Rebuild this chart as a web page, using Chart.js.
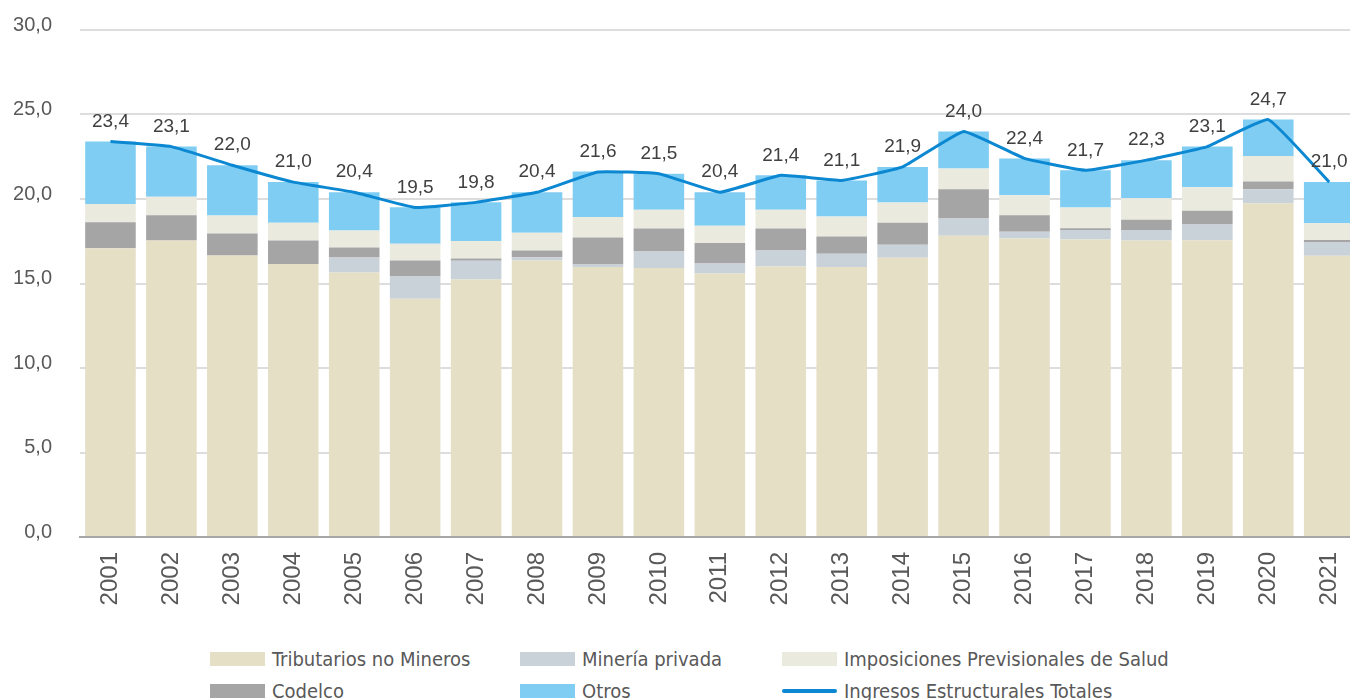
<!DOCTYPE html>
<html lang="es">
<head>
<meta charset="utf-8">
<title>Ingresos Estructurales</title>
<script src="https://cdn.jsdelivr.net/npm/chart.js@4/dist/chart.umd.min.js"></script>
<style>
    html, body { margin: 0; padding: 0; background: #fff; overflow: hidden; }
    #wrap { position: relative; width: 1350px; height: 700px; overflow: hidden; }
    #chart { position: absolute; left: 0; top: -10px; }
    #legend { position: absolute; left: 210px; top: 648px; display: grid;
        grid-template-columns: 310px 262px 400px; row-gap: 10px;
        font-family: 'Liberation Sans Narrow', 'DejaVu Sans Condensed', sans-serif;
        font-size: 20px; color: #595959; }
    .item { display: flex; align-items: center; height: 22px; white-space: nowrap; }
    .box { width: 55px; height: 14px; margin-right: 7px; }
    .line { width: 55px; height: 4px; border-radius: 2px; margin-right: 7px; }
</style>
</head>
<body>
<div id="wrap">
    <canvas id="chart" width="1373" height="650"></canvas>
    <div id="legend"></div>
</div>
<script>
// Datos
const years = ['2001', '2002', '2003', '2004', '2005', '2006', '2007', '2008', '2009', '2010', '2011',
    '2012', '2013', '2014', '2015', '2016', '2017', '2018', '2019', '2020', '2021'];
const tributarios = [17.09, 17.54, 16.66, 16.15, 15.65, 14.10, 15.24, 16.36, 15.97, 15.91, 15.59,
    16.01, 15.97, 16.52, 17.82, 17.66, 17.60, 17.54, 17.56, 19.75, 16.64];
const mineriaPrivada = [0, 0, 0, 0, 0.89, 1.32, 1.10, 0.20, 0.16, 0.98, 0.59,
    0.94, 0.79, 0.78, 1.02, 0.40, 0.57, 0.63, 0.93, 0.82, 0.78];
const codelco = [1.54, 1.50, 1.30, 1.39, 0.59, 0.94, 0.14, 0.39, 1.59, 1.36, 1.21,
    1.30, 1.02, 1.30, 1.73, 0.98, 0.10, 0.60, 0.82, 0.46, 0.16];
const imposiciones = [1.08, 1.10, 1.06, 1.05, 1.00, 0.99, 1.04, 1.05, 1.22, 1.12, 1.02,
    1.11, 1.18, 1.19, 1.23, 1.18, 1.22, 1.27, 1.38, 1.52, 0.99];
const otros = [3.69, 2.96, 2.98, 2.41, 2.27, 2.16, 2.29, 2.40, 2.68, 2.13, 1.99,
    2.04, 2.14, 2.11, 2.20, 2.18, 2.21, 2.26, 2.41, 2.15, 2.43];
const ingresosTotales = [23.4, 23.1, 22.0, 21.0, 20.4, 19.5, 19.8, 20.4, 21.6, 21.5, 20.4,
    21.4, 21.1, 21.9, 24.0, 22.4, 21.7, 22.3, 23.1, 24.7, 21.0];
const yTicks = [0, 5, 10, 15, 20, 25, 30];

const colors = {
    tributarios: '#E5DFC6',
    mineria: '#C9D1D9',
    codelco: '#A5A5A5',
    imposiciones: '#EAEADF',
    otros: '#7FCDF3',
    linea: '#0B88D1'
};

const fmt = v => v.toFixed(1).replace('.', ',');

// Etiquetas de valores sobre la línea
const lineLabels = {
    id: 'lineLabels',
    afterDatasetsDraw(chart) {
        const ctx = chart.ctx;
        const idx = chart.data.datasets.findIndex(d => d.type === 'line');
        const meta = chart.getDatasetMeta(idx);
        ctx.save();
        ctx.font = '19px "Liberation Sans", Arial, sans-serif';
        ctx.fillStyle = '#404040';
        ctx.textAlign = 'center';
        ctx.textBaseline = 'middle';
        meta.data.forEach((pt, i) => {
            ctx.fillText(fmt(ingresosTotales[i]), pt.x, pt.y - 20);
        });
        ctx.restore();
    }
};

const barDs = (label, data, color) => ({
    type: 'bar', label, data, backgroundColor: color, borderWidth: 0,
    stack: 'barras', order: 2, barPercentage: 0.83, categoryPercentage: 1
});

const datasets = [
    barDs('Tributarios no Mineros', tributarios, colors.tributarios),
    barDs('Minería privada', mineriaPrivada, colors.mineria),
    barDs('Codelco', codelco, colors.codelco),
    barDs('Imposiciones Previsionales de Salud', imposiciones, colors.imposiciones),
    barDs('Otros', otros, colors.otros),
    {
        type: 'line', label: 'Ingresos Estructurales Totales', data: ingresosTotales,
        borderColor: colors.linea, borderWidth: 3, pointRadius: 0, tension: 0.1,
        fill: false, stack: 'total', order: 0
    }
];

new Chart(document.getElementById('chart'), {
    data: { labels: years, datasets },
    options: {
        responsive: false,
        animation: false,
        layout: { padding: { top: 19, right: 0, bottom: 0, left: 0 } },
        plugins: { legend: { display: false }, tooltip: { enabled: false } },
        scales: {
            x: {
                stacked: true,
                grid: { display: false, drawTicks: false },
                border: { display: true, color: '#A6A6A6', width: 2 },
                ticks: {
                    minRotation: 90, maxRotation: 90, padding: 15, color: '#595959',
                    font: { family: '"Liberation Sans", Arial, sans-serif', size: 24 }
                },
                afterFit: s => { s.height = 103; }
            },
            y: {
                stacked: true, min: 0, max: 30,
                grid: { color: '#DDDDDD', lineWidth: 2, drawTicks: false },
                border: { display: false },
                afterBuildTicks: s => { s.ticks = yTicks.map(v => ({ value: v })); },
                ticks: {
                    padding: 28, labelOffset: -5, color: '#595959',
                    font: { family: '"Liberation Sans", Arial, sans-serif', size: 20 },
                    callback: v => fmt(v)
                },
                afterFit: s => { s.width = 80; }
            }
        }
    },
    plugins: [lineLabels]
});

// Leyenda en HTML (tres columnas, mismo orden que el original)
const legendItems = [
    { label: 'Tributarios no Mineros', color: colors.tributarios },
    { label: 'Minería privada', color: colors.mineria },
    { label: 'Imposiciones Previsionales de Salud', color: colors.imposiciones },
    { label: 'Codelco', color: colors.codelco },
    { label: 'Otros', color: colors.otros },
    { label: 'Ingresos Estructurales Totales', color: colors.linea, line: true }
];
const legendEl = document.getElementById('legend');
legendItems.forEach(it => {
    const div = document.createElement('div');
    div.className = 'item';
    div.innerHTML = `<span class="${it.line ? 'line' : 'box'}" style="background:${it.color}"></span>${it.label}`;
    legendEl.appendChild(div);
});
</script>
</body>
</html>
